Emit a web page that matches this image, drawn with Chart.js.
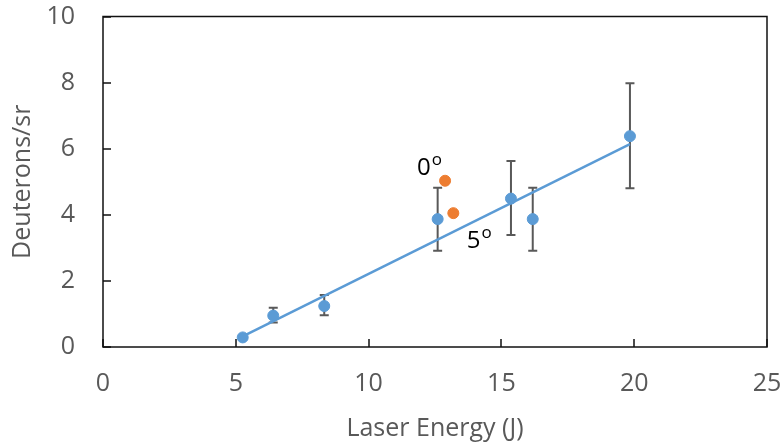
<!DOCTYPE html>
<html>
<head>
<meta charset="utf-8">
<script src="https://cdn.jsdelivr.net/npm/chart.js@4/dist/chart.umd.min.js"></script>
<style>
  html, body { margin: 0; padding: 0; background: #fff; }
  #wrap { width: 782px; height: 445px; }
</style>
</head>
<body>
<div id="wrap"><canvas id="chart"></canvas></div>
<script>
// measured points (blue) with error bars
const energy = [5.26, 6.41, 8.33, 12.60, 15.36, 16.18, 19.84];
const deuterons = [0.29, 0.95, 1.24, 3.87, 4.49, 3.87, 6.38];
const errUp = [0, 0.24, 0.33, 0.95, 1.14, 0.95, 1.60];
const errDown = [0, 0.21, 0.28, 0.96, 1.10, 0.96, 1.58];

// angle shots (orange)
const angleEnergy = [12.88, 13.19];
const angleDeuterons = [5.03, 4.05];
const angleLabels = ['0', '5'];
const angleLabelX = [11.82, 13.70];
const angleLabelY = [5.20, 3.00];

// trendline ends
const trendX = [5.26, 19.84];
const trendY = [0.32, 6.14];

const xTicks = [0, 5, 10, 15, 20, 25];
const yTicks = [0, 2, 4, 6, 8, 10];

const FONT = "'Open Sans', sans-serif";
const GREY = '#595959';

const toXY = (xs, ys) => xs.map((x, i) => ({ x: x, y: ys[i] }));

// frame + inward tick marks + error bars + angle labels
const extras = {
  id: 'extras',
  beforeDatasetsDraw(chart) {
    const { ctx, scales } = chart;
    const xs = scales.x, ys = scales.y;
    ctx.save();
    ctx.strokeStyle = GREY;
    ctx.lineWidth = 2;
    energy.forEach((e, i) => {
      if (!errUp[i] && !errDown[i]) return;
      const px = xs.getPixelForValue(e);
      const top = ys.getPixelForValue(deuterons[i] + errUp[i]);
      const bot = ys.getPixelForValue(deuterons[i] - errDown[i]);
      ctx.beginPath();
      ctx.moveTo(px, top); ctx.lineTo(px, bot);
      ctx.moveTo(px - 4.5, top); ctx.lineTo(px + 4.5, top);
      ctx.moveTo(px - 4.5, bot); ctx.lineTo(px + 4.5, bot);
      ctx.stroke();
    });
    ctx.restore();
  },
  afterDraw(chart) {
    const { ctx, chartArea: a, scales } = chart;
    const xs = scales.x, ys = scales.y;
    ctx.save();
    ctx.strokeStyle = '#111';
    ctx.lineWidth = 1.5;
    ctx.strokeRect(a.left, a.top, a.right - a.left, a.bottom - a.top);
    ctx.beginPath();
    xTicks.forEach(t => {
      const px = Math.round(xs.getPixelForValue(t));
      ctx.moveTo(px, a.bottom); ctx.lineTo(px, a.bottom - 8);
    });
    yTicks.forEach(t => {
      const py = Math.round(ys.getPixelForValue(t));
      ctx.moveTo(a.left, py); ctx.lineTo(a.left + 8, py);
    });
    ctx.stroke();

    ctx.fillStyle = '#000';
    ctx.textBaseline = 'alphabetic';
    ctx.textAlign = 'left';
    angleLabels.forEach((lab, i) => {
      const px = xs.getPixelForValue(angleLabelX[i]);
      const py = ys.getPixelForValue(angleLabelY[i]);
      ctx.font = '24px ' + FONT;
      ctx.fillText(lab, px, py);
      const w = ctx.measureText(lab).width;
      ctx.font = '17px ' + FONT;
      ctx.fillText('o', px + w + 1, py - 10);
    });
    ctx.restore();
  }
};

new Chart(document.getElementById('chart'), {
  type: 'scatter',
  data: {
    datasets: [
      {
        label: 'trend',
        data: toXY(trendX, trendY),
        showLine: true,
        borderColor: '#5B9BD5',
        borderWidth: 2.5,
        pointRadius: 0,
        order: 3
      },
      {
        label: 'Deuterons',
        data: toXY(energy, deuterons),
        backgroundColor: '#5B9BD5',
        borderColor: '#5B9BD5',
        borderWidth: 1,
        pointRadius: 5.5,
        order: 1
      },
      {
        label: 'angles',
        data: toXY(angleEnergy, angleDeuterons),
        backgroundColor: '#ED7D31',
        borderColor: '#ED7D31',
        borderWidth: 1,
        pointRadius: 5.5,
        order: 2
      }
    ]
  },
  options: {
    responsive: true,
    maintainAspectRatio: false,
    animation: false,
    layout: { padding: { top: 16.5, right: 15, left: 0, bottom: 0 } },
    plugins: { legend: { display: false }, tooltip: { enabled: false } },
    scales: {
      x: {
        type: 'linear',
        min: 0, max: 25,
        afterBuildTicks: s => { s.ticks = xTicks.map(v => ({ value: v })); },
        afterFit: s => { s.height = 98; s.paddingLeft = 0; s.paddingRight = 0; },
        grid: { display: false, drawTicks: false },
        border: { display: false },
        ticks: { color: GREY, font: { family: FONT, size: 25 }, padding: 22, maxRotation: 0 },
        title: { display: true, text: 'Laser Energy (J)', color: GREY, font: { family: FONT, size: 25 }, padding: { top: 1, bottom: 1 } }
      },
      y: {
        type: 'linear',
        min: 0, max: 10,
        afterBuildTicks: s => { s.ticks = yTicks.map(v => ({ value: v })); },
        afterFit: s => { s.width = 103; s.paddingTop = 0; s.paddingBottom = 0; },
        grid: { display: false, drawTicks: false },
        border: { display: false },
        ticks: { color: GREY, font: { family: FONT, size: 25 }, padding: 28 },
        title: { display: true, text: 'Deuterons/sr', color: GREY, font: { family: FONT, size: 25 }, padding: { top: 8, bottom: 8 } }
      }
    }
  },
  plugins: [extras]
});
</script>
</body>
</html>
